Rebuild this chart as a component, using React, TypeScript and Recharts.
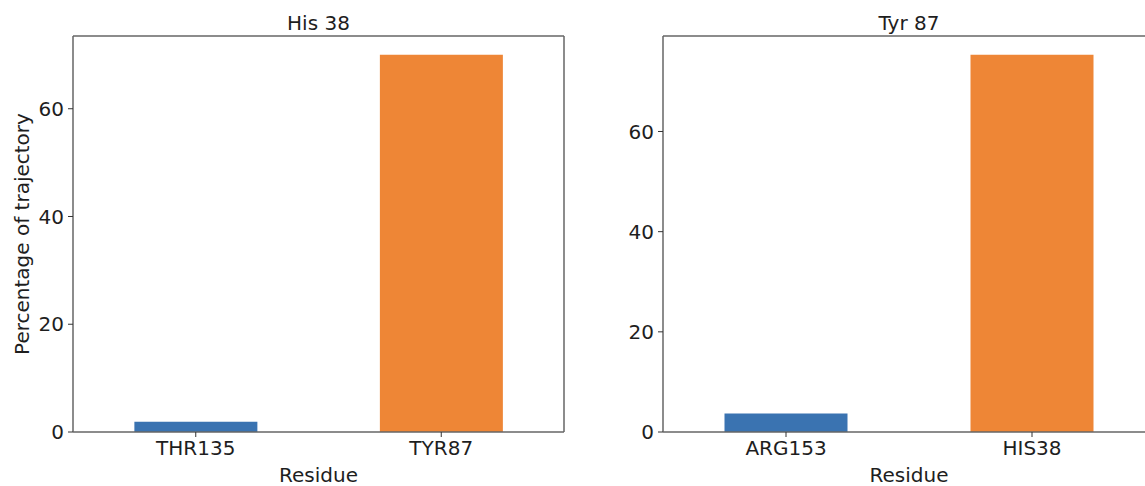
import React from 'react';
import { BarChart, Bar, Cell, XAxis, YAxis, CartesianGrid, ReferenceLine } from 'recharts';

// His 38 contacts
const HIS38_RESIDUES = ['THR135', 'TYR87'];
const HIS38_PCT = [1.9, 70.0];

// Tyr 87 contacts
const TYR87_RESIDUES = ['ARG153', 'HIS38'];
const TYR87_PCT = [3.7, 75.3];

const Y_TICKS = [0, 20, 40, 60];
const BAR_COLORS = ['#3a73b1', '#ee8636'];

const FONT = '"DejaVu Sans", sans-serif';
const AXIS = '#666';
const TEXT = '#1e1e1e';

const toRows = (names: string[], vals: number[]) =>
  names.map((residue, i) => ({ residue, pct: vals[i] }));

type PanelProps = {
  title: string;
  names: string[];
  vals: number[];
  yAxisWidth: number;
  rightMargin: number;
  showYLabel?: boolean;
};

const Panel: React.FC<PanelProps> = ({ title, names, vals, yAxisWidth, rightMargin, showYLabel }) => {
  const data = toRows(names, vals);
  // matplotlib-style 5% headroom
  const yMax = Math.max(...vals) * 1.05;
  const tickStyle = { fontSize: 20, fill: TEXT, fontFamily: FONT };
  return (
    <BarChart
      width={580}
      height={486}
      data={data}
      margin={{ top: 36, right: rightMargin, bottom: 0, left: 0 }}
      barCategoryGap="25%"
    >
      {/* right spine */}
      <CartesianGrid
        horizontal={false}
        stroke={AXIS}
        strokeWidth={1.5}
        strokeDasharray=""
        verticalCoordinatesGenerator={({ offset }: any) => [offset.left + offset.width]}
      />
      <XAxis
        dataKey="residue"
        height={54}
        stroke={AXIS}
        strokeWidth={1.5}
        tickSize={5}
        tickMargin={4}
        tick={tickStyle}
        tickLine={{ stroke: '#333', strokeWidth: 1 }}
        label={{ value: 'Residue', position: 'insideBottom', offset: 4, fontSize: 20, fill: TEXT, fontFamily: FONT }}
      />
      <YAxis
        width={yAxisWidth}
        domain={[0, yMax]}
        ticks={Y_TICKS}
        stroke={AXIS}
        strokeWidth={1.5}
        tickSize={5}
        tickMargin={4}
        tick={tickStyle}
        tickLine={{ stroke: '#333', strokeWidth: 1 }}
        label={
          showYLabel
            ? {
                value: 'Percentage of trajectory',
                angle: -90,
                position: 'insideLeft',
                offset: 22,
                textAnchor: 'middle',
                fontSize: 20,
                fill: TEXT,
                fontFamily: FONT,
              }
            : undefined
        }
      />
      <Bar dataKey="pct" isAnimationActive={false}>
        {data.map((_, i) => (
          <Cell key={i} fill={BAR_COLORS[i]} />
        ))}
      </Bar>
      {/* top spine + title */}
      <ReferenceLine
        y={yMax}
        stroke={AXIS}
        strokeWidth={1.5}
        ifOverflow="visible"
        label={{ value: title, position: 'top', offset: 6, fontSize: 20, fill: TEXT, fontFamily: FONT }}
      />
    </BarChart>
  );
};

export default function App() {
  return (
    <div
      style={{
        position: 'fixed',
        left: 0,
        top: 0,
        width: 1145,
        height: 486,
        overflow: 'hidden',
        background: '#fff',
        fontFamily: FONT,
      }}
    >
      <div style={{ position: 'absolute', left: 0, top: 0 }}>
        <Panel title="His 38" names={HIS38_RESIDUES} vals={HIS38_PCT} yAxisWidth={73} rightMargin={16} showYLabel />
      </div>
      <div style={{ position: 'absolute', left: 580, top: 0 }}>
        <Panel title="Tyr 87" names={TYR87_RESIDUES} vals={TYR87_PCT} yAxisWidth={83} rightMargin={5} />
      </div>
    </div>
  );
}
